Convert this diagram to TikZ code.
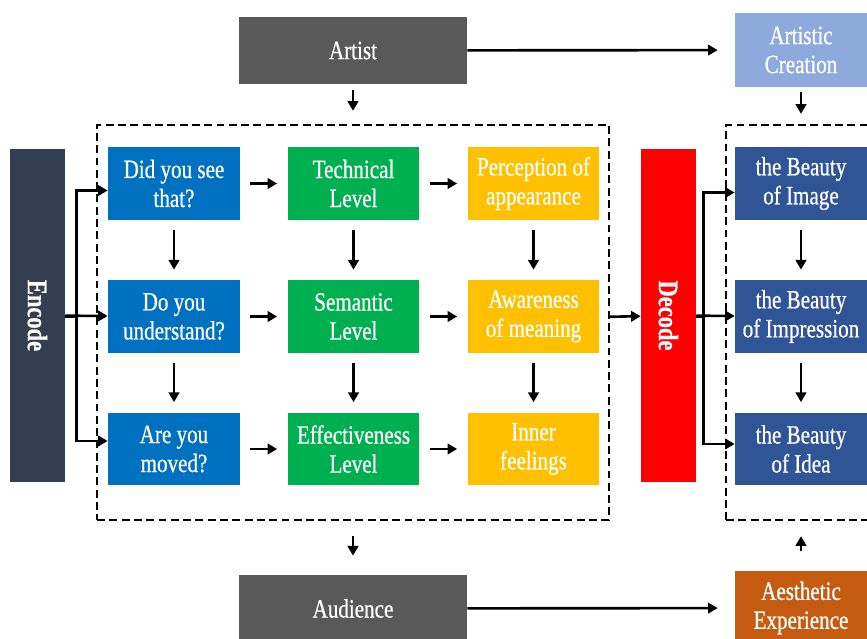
\documentclass[tikz,border=0pt]{standalone}
\usepackage{fontspec}
\setmainfont{Liberation Serif}[FakeStretch=0.8,FakeBold=0.6]
\usetikzlibrary{arrows.meta, positioning, calc}
\definecolor{artgray}{RGB}{89,89,89}
\definecolor{encslate}{RGB}{51,63,80}
\definecolor{qblue}{RGB}{0,112,192}
\definecolor{lvgreen}{RGB}{0,176,80}
\definecolor{pcyellow}{RGB}{255,192,0}
\definecolor{decred}{RGB}{255,0,0}
\definecolor{beautynavy}{RGB}{47,85,151}
\definecolor{creatblue}{RGB}{142,169,219}
\definecolor{expbrown}{RGB}{197,90,17}

\begin{document}
\begin{tikzpicture}[
    x=0.02cm, y=-0.02cm,
    box/.style={minimum width=2.64cm,minimum height=1.46cm,align=center,
                text=white,inner sep=1pt,font=\fontsize{15}{16.5}\selectfont},
    wide/.style={box,minimum width=4.56cm,minimum height=1.34cm},
    bar/.style={box,minimum width=6.66cm,minimum height=1.1cm,rotate=-90,
                font=\fontsize{16}{17}\selectfont\bfseries},
    frame/.style={draw,dashed,line width=1.4pt,dash pattern=on 4.5pt off 2.5pt},
    arr/.style={-{Triangle[length=5.5pt,width=6pt]},line width=1.5pt},
    gap/.style={arr,shorten <=0.2cm,shorten >=0.2cm}
]
  \clip (0,0) rectangle (867,639);
  \useasboundingbox (0,0) rectangle (867,639);

  % Top and bottom
  \node[wide,fill=artgray] (artist) at (353,50.5) {Artist};
  \node[box,fill=creatblue,minimum height=1.48cm] (creat) at (801,50) {Artistic\\Creation};
  \node[wide,fill=artgray] (aud) at (353,608.5) {Audience};
  \node[box,fill=expbrown,minimum height=1.48cm] (exp) at (801,608) {Aesthetic\\Experience};

  % Dashed frames
  \node[frame,minimum width=10.24cm,minimum height=7.9cm] (frameL) at (353,322.5) {};
  \node[frame,minimum width=3.0cm,minimum height=7.9cm] (frameR) at (801,322.5) {};

  % Encode / Decode
  \node[bar,fill=encslate] (enc) at (37.5,315.5) {Encode};
  \node[bar,fill=decred] (dec) at (668.5,315.5) {Decode};

  % Grid of boxes
  \node[box,fill=qblue] (q1) at (174,183.5) {Did you see\\that?};
  \node[box,fill=qblue] (q2) at (174,316.5) {Do you\\understand?};
  \node[box,fill=qblue] (q3) at (174,449) {Are you\\moved?};
  \node[box,fill=lvgreen] (l1) at (353.5,183.5) {Technical\\Level};
  \node[box,fill=lvgreen] (l2) at (353.5,316.5) {Semantic\\Level};
  \node[box,fill=lvgreen] (l3) at (353.5,449) {Effectiveness\\Level};
  \node[box,fill=pcyellow] (p1) at (533.5,183.5) {Perception of\\appearance};
  \node[box,fill=pcyellow] (p2) at (533.5,316.5) {Awareness\\of meaning};
  \node[box,fill=pcyellow] (p3) at (533.5,449) {Inner\\feelings};
  \node[box,fill=beautynavy] (b1) at (801,183.5) {the Beauty\\of Image};
  \node[box,fill=beautynavy] (b2) at (801,316.5) {the Beauty\\of Impression};
  \node[box,fill=beautynavy] (b3) at (801,449) {the Beauty\\of Idea};

  % Arrows
  \draw[arr,shorten >=0.34cm] (artist) -- (creat);
  \draw[arr,shorten >=0.34cm] (aud) -- (exp);
  \draw[arr,shorten <=0.12cm,shorten >=0.26cm] (artist) -- (frameL);
  \draw[arr,shorten <=0.1cm,shorten >=0.2cm] (creat) -- (frameR);
  \draw[arr,shorten <=0.3cm,shorten >=0.38cm] (frameL) -- (aud);
  \draw[arr,shorten <=0.4cm,shorten >=0.3cm] (exp) -- (frameR);
  \foreach \a/\b in {q1/l1,l1/p1,q2/l2,l2/p2,q3/l3,l3/p3,
                     q1/q2,q2/q3,l1/l2,l2/l3,p1/p2,p2/p3,b1/b2,b2/b3}
    \draw[gap] (\a) -- (\b);
  \draw[arr] (enc) -- (q2);
  \draw[arr] (enc.north |- q2) -- ++(11,0) |- ([yshift=-0.14cm]q1.west);
  \draw[arr] (enc.north |- q2) -- ++(11,0) |- ([yshift=0.16cm]q3.west);
  \draw[arr] (frameL) -- (dec);
  \draw[arr] (dec) -- (b2);
  \draw[arr] (dec.north |- b2) -- ++(7,0) |- ([yshift=-0.18cm]b1.west);
  \draw[arr] (dec.north |- b2) -- ++(7,0) |- ([yshift=0.1cm]b3.west);
\end{tikzpicture}
\end{document}
